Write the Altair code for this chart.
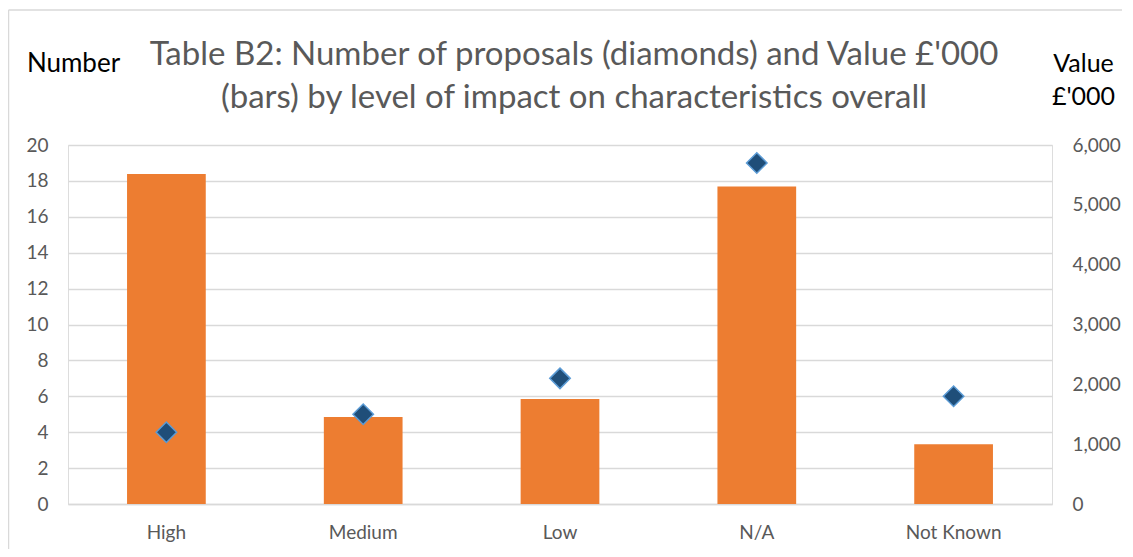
import altair as alt
import pandas as pd

categories = ["High", "Medium", "Low", "N/A", "Not Known"]
values_k = [5515, 1455, 1755, 5305, 1000]
numbers = [4, 5, 7, 19, 6]

df = pd.DataFrame({"cat": categories, "value": values_k, "number": numbers})

FONT = "Lato"
GREY = "#595959"

x_enc = alt.X(
    "cat:N",
    sort=categories,
    scale=alt.Scale(paddingInner=0.6, paddingOuter=0.3),
    axis=alt.Axis(title=None, labelAngle=0, labelFontSize=19, labelColor=GREY,
                  labelFont=FONT, ticks=False, domainColor="#d9d9d9",
                  domainWidth=1.5, labelPadding=19),
)

bars = alt.Chart(df).mark_bar(color="#ed7d31").encode(
    x=x_enc,
    y=alt.Y("value:Q", scale=alt.Scale(domain=[0, 6000], nice=False),
            axis=alt.Axis(orient="right", values=[0, 1000, 2000, 3000, 4000, 5000, 6000],
                          format=",.0f", grid=False, ticks=False, domain=False,
                          labelFontSize=19, labelColor=GREY, labelFont=FONT,
                          labelAlign="left", labelPadding=20,
                          title=["Value", "£'000"], titleAngle=0, titleFontSize=25,
                          titleFont=FONT, titleColor="#000000", titleFontWeight="normal",
                          titleAlign="center", titleBaseline="middle",
                          titleX=31, titleY=-82, titleLineHeight=33)),
)

points = alt.Chart(df).mark_point(shape="diamond", filled=True, size=420,
                                   color="#1f4e79", stroke="#5b9bd5",
                                   strokeWidth=1.5, opacity=1).encode(
    x=x_enc,
    y=alt.Y("number:Q", scale=alt.Scale(domain=[0, 20], nice=False),
            axis=alt.Axis(orient="left", values=list(range(0, 21, 2)),
                          grid=True, gridColor="#d9d9d9", gridWidth=1.5,
                          ticks=False, domain=False,
                          labelFontSize=19, labelColor=GREY, labelFont=FONT,
                          labelPadding=20,
                          title="Number", titleAngle=0, titleFontSize=26,
                          titleFont=FONT, titleColor="#000000", titleFontWeight="normal",
                          titleAlign="center", titleBaseline="middle",
                          titleX=5, titleY=-82)),
)

frame_df = pd.DataFrame({"k": [0]})
frame_left = alt.Chart(frame_df).mark_rule(color="#d9d9d9", strokeWidth=1.5).encode(
    x=alt.value(-59.5), y=alt.value(-135), y2=alt.value(420))
frame_top = alt.Chart(frame_df).mark_rule(color="#d9d9d9", strokeWidth=1.5).encode(
    x=alt.value(-59.5), x2=alt.value(1080), y=alt.value(-135))

chart = alt.layer(frame_left, frame_top, bars, points).resolve_scale(y="independent").properties(
    width=984,
    height=359,
    autosize=alt.AutoSizeParams(type="none"),
    padding={"left": 60, "top": 137, "right": 70, "bottom": 45},
    title=alt.Title(
        text=["Table B2: Number of proposals (diamonds) and Value £'000",
              "(bars) by level of impact on characteristics overall"],
        fontSize=33, font=FONT, color=GREY, fontWeight="normal",
        anchor="middle", dx=14, offset=-106, lineHeight=43,
    ),
).configure_view(stroke=None).configure(background="white")

chart.save("out.html", embed_options={"renderer": "svg", "actions": False})
